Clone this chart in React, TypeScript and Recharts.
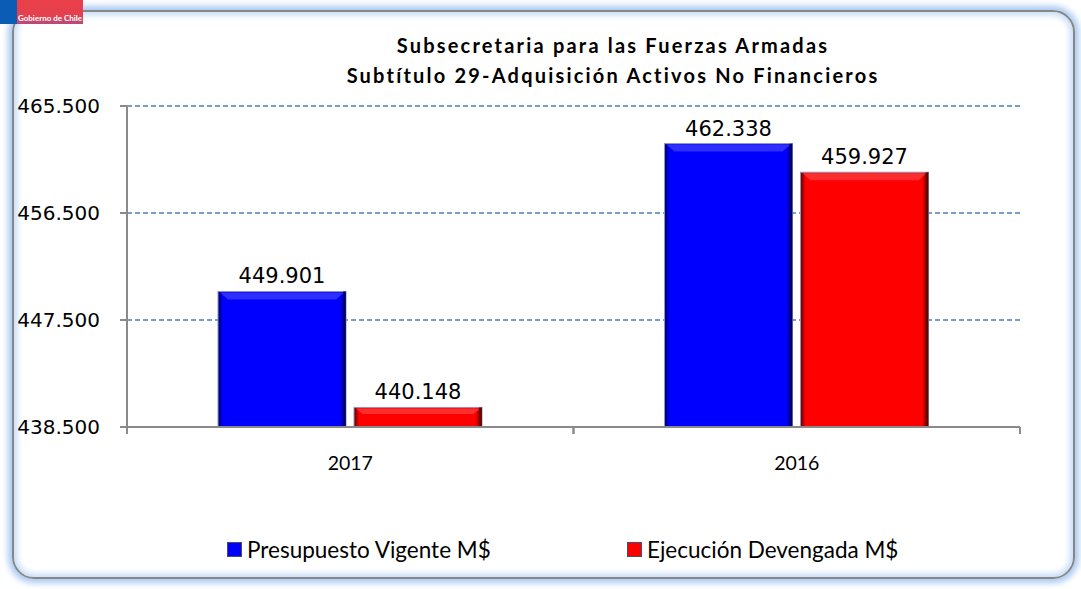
import React from 'react'
import { BarChart, Bar, XAxis, YAxis, CartesianGrid, LabelList } from 'recharts'

// data
const years = ['2017', '2016']
const presupuestoVigente = [449901, 462338]
const ejecucionDevengada = [440148, 459927]
const yTicks = [438500, 447500, 456500, 465500]
const titleLines = ['Subsecretaria para las Fuerzas Armadas', 'Subtítulo 29-Adquisición Activos No Financieros']
const seriesNames = ['Presupuesto Vigente M$', 'Ejecución Devengada M$']

const chartData = years.map((year, i) => ({
  year,
  vigente: presupuestoVigente[i],
  devengada: ejecucionDevengada[i],
}))

const fmt = (v: number | string) => String(v).replace(/\B(?=(\d{3})+(?!\d))/g, '.')

const numFont = '"DejaVu Sans", sans-serif'
const textFont = 'Lato, "Open Sans", sans-serif'

type BevelProps = {
  x?: number
  y?: number
  width?: number
  height?: number
  base: string
  dark: string
  light: string
  id: string
}

// bar with a bit of an Excel style bevel
function BevelBar({ x = 0, y = 0, width = 0, height = 0, base, dark, light, id }: BevelProps) {
  if (height <= 0) return null
  const b = Math.min(8, height / 3)
  const gid = `g-${id}-${Math.round(x)}`
  return (
    <g>
      <defs>
        <linearGradient id={gid} x1="0" y1="0" x2="1" y2="0">
          <stop offset="0" stopColor={dark} />
          <stop offset="0.04" stopColor={base} />
          <stop offset="0.95" stopColor={base} />
          <stop offset="1" stopColor={dark} />
        </linearGradient>
      </defs>
      <rect x={x} y={y} width={width} height={height} fill={`url(#${gid})`} stroke="#8e9ab8" strokeWidth={1} />
      <polygon
        points={`${x + 2},${y + 1} ${x + width - 2},${y + 1} ${x + width - b - 2},${y + b} ${x + b + 2},${y + b}`}
        fill={light}
        opacity={0.8}
      />
      <rect x={x + width - 3} y={y} width={3} height={height} fill={dark} opacity={0.8} />
    </g>
  )
}

// category label at the band centre, tick marks on the band edges (like Excel)
function CategoryTick(props: any) {
  const { x, y, payload } = props
  const half = payload && payload.offset ? payload.offset : 223
  const axisY = y - 7 - 22
  return (
    <g>
      <line x1={x - half} y1={axisY} x2={x - half} y2={axisY + 7} stroke="#8a8a8a" strokeWidth={2} />
      <line x1={x + half} y1={axisY} x2={x + half} y2={axisY + 7} stroke="#8a8a8a" strokeWidth={2} />
      <text x={x} y={y} dy="0.71em" textAnchor="middle" fill="#000" fontSize={19.5} fontFamily={textFont}>
        {payload.value}
      </text>
    </g>
  )
}

export default function App() {
  return (
    <div style={{ position: 'absolute', left: 0, top: 0, width: 1081, height: 589, background: '#fff', overflow: 'hidden' }}>
      {/* frame */}
      <div
        style={{
          position: 'absolute',
          left: 12,
          top: 10,
          width: 1059,
          height: 565,
          border: '2px solid #878787',
          borderRadius: 22,
          boxShadow: '0 0 6px 4px #a9c9f2, inset 0 0 6px 3px #c3daf6',
        }}
      />
      {/* logo */}
      <div style={{ position: 'absolute', left: 0, top: 0, width: 17, height: 24, background: '#0b5cb5' }} />
      <div
        style={{
          position: 'absolute',
          left: 17,
          top: 0,
          width: 66,
          height: 24,
          background: 'linear-gradient(180deg, #ea3f4b 0%, #e4404e 70%, #b64a7a 100%)',
          color: '#fff',
          fontFamily: textFont,
          fontSize: 8,
          fontWeight: 700,
          lineHeight: '36px',
          textAlign: 'center',
          whiteSpace: 'nowrap',
        }}
      >
        Gobierno de Chile
      </div>

      {/* title */}
      <div
        style={{
          position: 'absolute',
          left: 263,
          width: 700,
          top: 30,
          textAlign: 'center',
          fontFamily: textFont,
          fontWeight: 700,
          fontSize: 20,
          letterSpacing: 2.2,
          lineHeight: '30px',
          color: '#000',
        }}
      >
        {titleLines.map((t) => (
          <div key={t}>{t}</div>
        ))}
      </div>

      <div style={{ position: 'absolute', left: 0, top: 0 }}>
        <BarChart
          width={1081}
          height={589}
          data={chartData}
          margin={{ top: 106, right: 61, bottom: 122, left: 0 }}
          barGap={8}
          barSize={128}
        >
          <CartesianGrid vertical={false} stroke="#4a7ebb" strokeDasharray="5 3" strokeWidth={1.5} />
          <XAxis
            dataKey="year"
            height={40}
            stroke="#8a8a8a"
            strokeWidth={2}
            tickLine={false}
            tickSize={7}
            tickMargin={22}
            tick={<CategoryTick />}
            interval={0}
          />
          <YAxis
            width={127}
            domain={[438500, 465500]}
            ticks={yTicks}
            stroke="#8a8a8a"
            strokeWidth={2}
            tickSize={7}
            tickMargin={20}
            tickFormatter={fmt}
            tick={{ fill: '#000', fontSize: 20, fontFamily: numFont }}
          />
          <Bar
            dataKey="vigente"
            name={seriesNames[0]}
            isAnimationActive={false}
            fill="#0000ff"
            shape={(p: any) => <BevelBar {...p} base="#0000ff" dark="#00006a" light="#3a3aff" id="b" />}
          >
            <LabelList dataKey="vigente" position="top" offset={8} formatter={fmt} fill="#000" fontSize={21} fontFamily={numFont} />
          </Bar>
          <Bar
            dataKey="devengada"
            name={seriesNames[1]}
            isAnimationActive={false}
            fill="#ff0000"
            shape={(p: any) => <BevelBar {...p} base="#ff0000" dark="#5e0000" light="#ff3a3a" id="r" />}
          >
            <LabelList dataKey="devengada" position="top" offset={8} formatter={fmt} fill="#000" fontSize={21} fontFamily={numFont} />
          </Bar>
        </BarChart>
      </div>

      {/* legend */}
      {seriesNames.map((name, i) => (
        <div
          key={name}
          style={{
            position: 'absolute',
            left: i === 0 ? 227 : 627,
            top: 536,
            display: 'flex',
            alignItems: 'center',
            fontFamily: textFont,
            fontSize: 22.5,
            color: '#000',
          }}
        >
          <span
            style={{
              display: 'inline-block',
              width: 15,
              height: 15,
              marginRight: 5,
              background: i === 0 ? '#0000ff' : '#ff0000',
              border: '1px solid #4a4a6a',
              boxSizing: 'border-box',
            }}
          />
          {name}
        </div>
      ))}
    </div>
  )
}
